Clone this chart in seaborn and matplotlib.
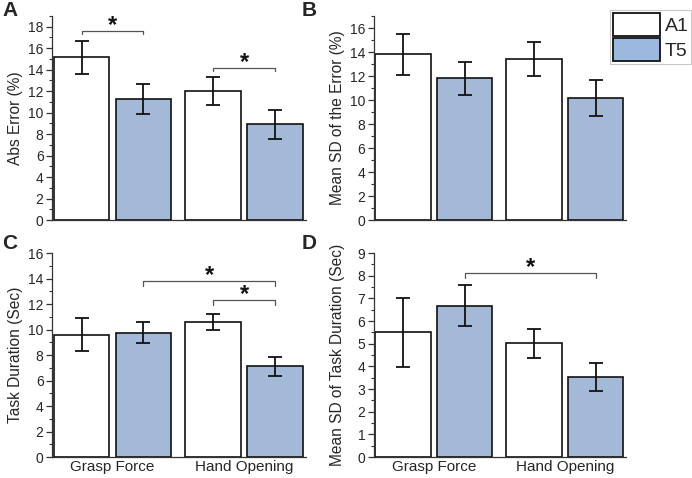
import numpy as np
import pandas as pd
import matplotlib
matplotlib.use("Agg")
import matplotlib.pyplot as plt
from matplotlib.ticker import MultipleLocator
from matplotlib.patches import Patch
import seaborn as sns

# ---------- data ----------
groups = ["Grasp Force", "Hand Opening"]
series = ["A1", "T5"]

abs_err_a1 = [15.15, 12.0]
abs_err_t5 = [11.25, 8.9]
abs_err_sd_a1 = [1.55, 1.3]
abs_err_sd_t5 = [1.38, 1.38]

sd_err_a1 = [13.8, 13.4]
sd_err_t5 = [11.8, 10.15]
sd_err_sd_a1 = [1.72, 1.42]
sd_err_sd_t5 = [1.35, 1.5]

dur_a1 = [9.6, 10.6]
dur_t5 = [9.75, 7.1]
dur_sd_a1 = [1.3, 0.65]
dur_sd_t5 = [0.8, 0.75]

sd_dur_a1 = [5.5, 5.02]
sd_dur_t5 = [6.68, 3.52]
sd_dur_sd_a1 = [1.52, 0.63]
sd_dur_sd_t5 = [0.9, 0.62]

# significance brackets: (series, group) -> (series, group), height
sig_a = [(("A1", 0), ("T5", 0), 17.6), (("A1", 1), ("T5", 1), 14.2)]
sig_c = [(("T5", 0), ("T5", 1), 13.8), (("A1", 1), ("T5", 1), 12.3)]
sig_d = [(("T5", 0), ("T5", 1), 8.13)]

# ---------- style ----------
sns.set_theme(style="ticks")
plt.rcParams["font.family"] = ["Liberation Sans", "DejaVu Sans"]

palette = {"A1": "#ffffff", "T5": "#9bb8df"}

fig = plt.figure(figsize=(6.92, 4.78), dpi=100)


def panel(rect, a1, t5, sd_a1, sd_t5, ylim, major, minor, ylabel,
          sigs=(), leg=0.3, xlabels=False):
    ax = fig.add_axes(rect)
    df = pd.DataFrame({
        "group": groups * 2,
        "series": ["A1"] * 2 + ["T5"] * 2,
        "value": list(a1) + list(t5),
    })
    sns.barplot(data=df, x="group", y="value", hue="series",
                order=groups, hue_order=series, palette=palette,
                edgecolor="#111111", linewidth=1.2, width=0.94, gap=0.1,
                errorbar=None, legend=False, ax=ax)
    # error bars
    centers = {}
    for s, cont, sds in zip(series, ax.containers, [sd_a1, sd_t5]):
        xs = [b.get_x() + b.get_width() / 2 for b in cont]
        ys = [b.get_height() for b in cont]
        for i, x in enumerate(xs):
            centers[(s, i)] = (x, ys[i])
        ax.errorbar(xs, ys, yerr=sds, fmt="none", ecolor="#111111",
                    elinewidth=1.3, capsize=5, capthick=1.3, zorder=5)
    # significance brackets
    for p0, p1, y in sigs:
        x0 = centers[p0][0]
        x1 = centers[p1][0]
        ax.plot([x0, x0, x1, x1], [y - leg, y, y, y - leg],
                color="#555555", lw=0.9, zorder=6)
        ax.annotate("*", xy=((x0 + x1) / 2, y), xytext=(0, -4.5),
                    textcoords="offset points", ha="center", va="bottom",
                    fontsize=17, fontweight="bold", color="#111111")
    ax.set_xlim(-0.46, 1.47)
    ax.set_ylim(*ylim)
    ax.yaxis.set_major_locator(MultipleLocator(major))
    ax.yaxis.set_minor_locator(MultipleLocator(minor))
    ax.tick_params(axis="y", which="major", length=4, width=0.9,
                   labelsize=10, pad=2, color="#333333")
    ax.tick_params(axis="y", which="minor", length=2, width=0.8,
                   color="#333333")
    ax.tick_params(axis="x", length=0, labelsize=11, pad=2)
    if not xlabels:
        ax.set_xticklabels([])
    ax.set_xlabel("")
    ax.set_ylabel(ylabel, fontsize=11.2)
    ax.yaxis.set_label_coords(-0.115, 0.5)
    for sp in ["top", "right"]:
        ax.spines[sp].set_visible(False)
    for sp in ["left", "bottom"]:
        ax.spines[sp].set_linewidth(0.9)
        ax.spines[sp].set_color("#333333")
    return ax


ax_a = panel([0.075, 0.5397, 0.367, 0.4268], abs_err_a1, abs_err_t5,
             abs_err_sd_a1, abs_err_sd_t5, (0, 19), 2, 1,
             "Abs Error (%)", sigs=sig_a, leg=0.32)
ax_b = panel([0.540, 0.5397, 0.365, 0.4268], sd_err_a1, sd_err_t5,
             sd_err_sd_a1, sd_err_sd_t5, (0, 17), 2, 1,
             "Mean SD of the Error (%)")
ax_c = panel([0.075, 0.0439, 0.367, 0.4268], dur_a1, dur_t5,
             dur_sd_a1, dur_sd_t5, (0, 16), 2, 1,
             "Task Duration (Sec)", sigs=sig_c, leg=0.4, xlabels=True)
ax_d = panel([0.540, 0.0439, 0.365, 0.4268], sd_dur_a1, sd_dur_t5,
             sd_dur_sd_a1, sd_dur_sd_t5, (0, 9), 1, 0.5,
             "Mean SD of Task Duration (Sec)", sigs=sig_d, leg=0.22,
             xlabels=True)

# legend
handles = [Patch(facecolor=palette[s], edgecolor="#111111", linewidth=1.3,
                 label=s) for s in series]
leg = fig.legend(handles=handles, loc="upper right",
                 bbox_to_anchor=(0.999, 1 - 10 / 478), fontsize=14,
                 frameon=True, fancybox=False, borderaxespad=0,
                 borderpad=0.15, labelspacing=0.12, handlelength=2.4,
                 handleheight=1.45, handletextpad=0.25)
leg.get_frame().set_edgecolor("#bbbbbb")
leg.get_frame().set_linewidth(0.8)

# panel letters
for lbl, x, y in [("A", 2, 1), ("B", 302, 1), ("C", 2, 234), ("D", 302, 234)]:
    fig.text(x / 692, 1 - y / 478, lbl, fontsize=15, fontweight="bold",
             ha="left", va="top")

fig.savefig("out.png", dpi=100)
